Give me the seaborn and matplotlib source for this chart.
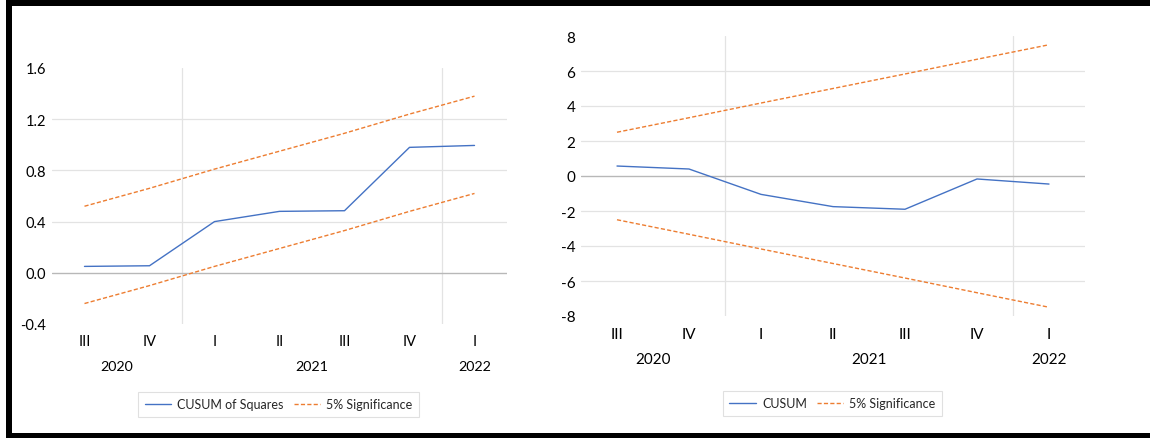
import numpy as np
import pandas as pd
import seaborn as sns
import matplotlib
matplotlib.use("Agg")
import matplotlib.pyplot as plt
from matplotlib.patches import Rectangle
from matplotlib.ticker import FuncFormatter

# ---------------- data ----------------
periods = ["2020 III", "2020 IV", "2021 I", "2021 II", "2021 III", "2021 IV", "2022 I"]
quarter_labels = ["III", "IV", "I", "II", "III", "IV", "I"]
period_years = ["2020", "2020", "2021", "2021", "2021", "2021", "2022"]

cusum_sq = [0.05, 0.055, 0.40, 0.48, 0.485, 0.98, 0.995]
cusum_sq_upper = [0.52, 0.66, 0.81, 0.95, 1.09, 1.24, 1.38]
cusum_sq_lower = [-0.24, -0.10, 0.05, 0.19, 0.33, 0.48, 0.62]

cusum = [0.57, 0.40, -1.05, -1.75, -1.90, -0.17, -0.46]
cusum_upper = [2.50, 3.33, 4.17, 5.00, 5.83, 6.67, 7.50]
cusum_lower = [-2.50, -3.33, -4.17, -5.00, -5.83, -6.67, -7.50]

left_yticks = [-0.4, 0.0, 0.4, 0.8, 1.2, 1.6]
right_yticks = [-8, -6, -4, -2, 0, 2, 4, 6, 8]

BLUE = "#4472C4"
ORANGE = "#ED7D31"
GRID = "#e3e3e3"
ZERO = "#b8b8b8"

sns.set_theme(style="white")
plt.rcParams["font.family"] = ["Lato", "DejaVu Sans"]
plt.rcParams["axes.unicode_minus"] = False

W, H = 1150, 439
fig = plt.figure(figsize=(W / 100, H / 100), dpi=100)
fig.patch.set_facecolor("white")


def px_axes(x0, x1, ytop, ybot):
    return fig.add_axes([x0 / W, (H - ybot) / H, (x1 - x0) / W, (ybot - ytop) / H])


def draw_panel(ax, main, upper, lower, main_label, yticks, fmt, fs_tick, fs_year, year_y, qpad):
    df = pd.DataFrame({"period": periods, "main": main, "upper": upper, "lower": lower})
    sns.lineplot(data=df, x="period", y="main", ax=ax, color=BLUE, lw=1.0,
                 sort=False, label=main_label, zorder=3)
    sns.lineplot(data=df, x="period", y="upper", ax=ax, color=ORANGE, lw=1.0,
                 sort=False, label="5% Significance", linestyle=(0, (3, 1.6)), zorder=3)
    sns.lineplot(data=df, x="period", y="lower", ax=ax, color=ORANGE, lw=1.0,
                 sort=False, label="_nolegend_", linestyle=(0, (3, 1.6)), zorder=3)
    ax.set_xlim(-0.5, len(periods) - 0.5)
    ax.set_ylim(yticks[0], yticks[-1])
    ax.set_yticks(yticks)
    ax.yaxis.set_major_formatter(FuncFormatter(fmt))
    ax.set_xticks(range(len(periods)))
    ax.set_xticklabels(quarter_labels)
    ax.set_xlabel("")
    ax.set_ylabel("")
    for s in ax.spines.values():
        s.set_visible(False)
    ax.tick_params(axis="both", length=0, labelsize=fs_tick, colors="black")
    ax.tick_params(axis="x", pad=qpad)
    ax.tick_params(axis="y", pad=4)
    # horizontal gridlines (inner ticks only)
    for t in yticks[1:-1]:
        if t == 0:
            ax.axhline(0, color=ZERO, lw=1.0, zorder=1)
        else:
            ax.axhline(t, color=GRID, lw=0.9, zorder=0.5)
    # year groups and dividers
    years = list(dict.fromkeys(period_years))
    idx = np.arange(len(periods))
    yarr = np.array(period_years)
    for yv in years:
        pos = idx[yarr == yv]
        ax.text(pos.mean(), year_y, yv, transform=ax.get_xaxis_transform(),
                ha="center", va="center", fontsize=fs_year, color="black")
    for i in range(len(periods) - 1):
        if period_years[i] != period_years[i + 1]:
            ax.axvline(i + 0.5, color=GRID, lw=0.9, zorder=0.5)
    leg = ax.get_legend()
    if leg is not None:
        leg.remove()


# left panel
axL = px_axes(52, 507, 69, 325)
draw_panel(axL, cusum_sq, cusum_sq_upper, cusum_sq_lower, "CUSUM of Squares",
           left_yticks, lambda v, p: f"{v:.1f}", 10.5, 10.3, -0.165, 7)
# right panel
axR = px_axes(581, 1085, 37, 317)
draw_panel(axR, cusum, cusum_upper, cusum_lower, "CUSUM",
           right_yticks, lambda v, p: f"{v:.0f}", 11, 11, -0.155, 8)

for ax, cx, cy in [(axL, 278.5, 405.5), (axR, 832.5, 404.5)]:
    h, l = ax.get_legend_handles_labels()
    lg = fig.legend(h, l, loc="center", bbox_to_anchor=(cx / W, (H - cy) / H),
                    ncol=2, frameon=True, fancybox=False, fontsize=9,
                    handlelength=2.1, handletextpad=0.5, columnspacing=0.8,
                    borderpad=0.5, borderaxespad=0, edgecolor="#d9d9d9")
    lg.get_frame().set_linewidth(0.8)

# black frame (top, left, bottom)
fig.patches.append(Rectangle((6 / W, (H - 7) / H), 1 - 6 / W, 6 / H, transform=fig.transFigure,
                             facecolor="black", edgecolor="none", zorder=10))
fig.patches.append(Rectangle((6 / W, 0), 6 / W, (H - 1) / H, transform=fig.transFigure,
                             facecolor="black", edgecolor="none", zorder=10))
fig.patches.append(Rectangle((6 / W, 0), 1 - 6 / W, 5 / H, transform=fig.transFigure,
                             facecolor="black", edgecolor="none", zorder=10))

fig.savefig("out.png", dpi=100, facecolor="white")
